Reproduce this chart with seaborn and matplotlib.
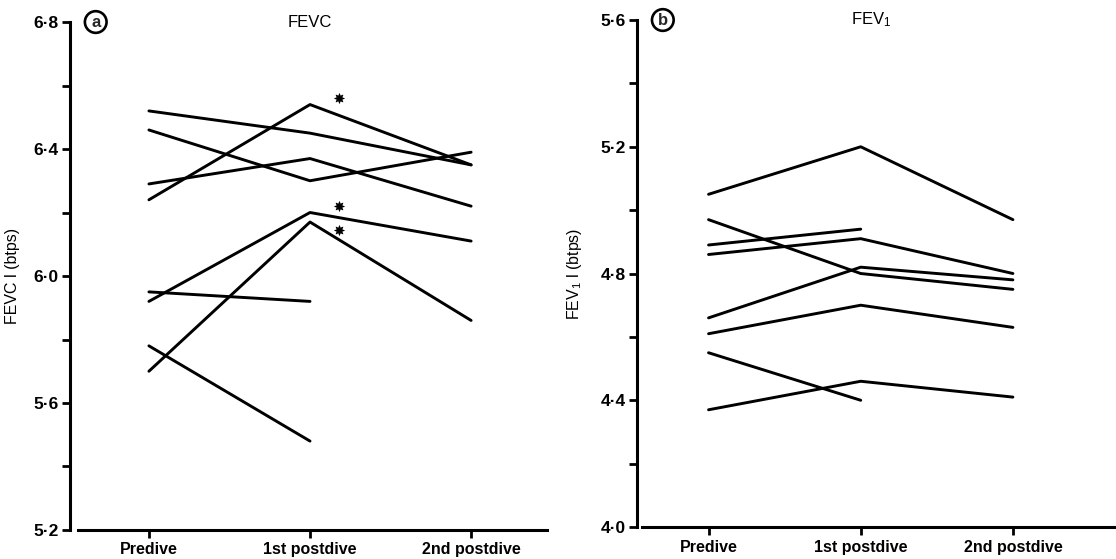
"""Recreate the FEVC / FEV1 pre- and post-dive line chart."""
#####################################
# Imports At the Top
#####################################

import numpy as np
import pandas as pd
import matplotlib

matplotlib.use("Agg")
import matplotlib.pyplot as plt
from matplotlib.ticker import FixedLocator, FuncFormatter
import seaborn as sns

#####################################
# Data
#####################################

visits = ["Predive", "1st postdive", "2nd postdive"]
subjects = [1, 2, 3, 4, 5, 6, 7, 8]

fevc_predive = [6.52, 6.46, 6.29, 6.24, 5.95, 5.92, 5.78, 5.70]
fevc_post1 = [6.45, 6.30, 6.37, 6.54, 5.92, 6.20, 5.48, 6.17]
fevc_post2 = [6.35, 6.39, 6.22, 6.35, np.nan, 6.11, np.nan, 5.86]

fev1_predive = [5.05, 4.97, 4.89, 4.86, 4.66, 4.61, 4.55, 4.37]
fev1_post1 = [5.20, 4.80, 4.94, 4.91, 4.82, 4.70, 4.40, 4.46]
fev1_post2 = [4.97, 4.75, np.nan, 4.80, 4.78, 4.63, np.nan, 4.41]

# significance marks (left panel only)
star_x = [1.18, 1.18, 1.18]
fevc_star_y = [6.56, 6.22, 6.145]

#####################################
# Define Functions
#####################################


def long_table(pre, post1, post2):
    """Turn three per-visit lists into a long-form table."""
    rows = []
    for subj, vals in zip(subjects, zip(pre, post1, post2)):
        for visit, val in zip(visits, vals):
            if not np.isnan(val):
                rows.append((subj, visit, val))
    df = pd.DataFrame(rows, columns=["subject", "visit", "value"])
    df["pos"] = df["visit"].map({v: i for i, v in enumerate(visits)})
    return df


def dot_decimal(v, _):
    return f"{v:.1f}".replace(".", "\u00b7")


def draw_panel(ax, df, ylim, xlim, letter, title, ylabel, title_x, label_x):
    sns.lineplot(data=df, x="pos", y="value", units="subject", estimator=None,
                 color="black", linewidth=2.1, sort=False, ax=ax, legend=False)

    ax.set_xlim(*xlim)
    ax.set_ylim(*ylim)
    lo, hi = ylim
    major = np.round(np.arange(lo, hi + 0.01, 0.4), 1)
    minor = np.round(major[:-1] + 0.2, 1)
    ax.yaxis.set_major_locator(FixedLocator(major))
    ax.yaxis.set_minor_locator(FixedLocator(minor))
    ax.yaxis.set_major_formatter(FuncFormatter(dot_decimal))
    ax.set_xticks(range(len(visits)))
    ax.set_xticklabels(visits)

    for side in ("top", "right"):
        ax.spines[side].set_visible(False)
    for side in ("left", "bottom"):
        ax.spines[side].set_linewidth(2.2)
        ax.spines[side].set_color("black")
    ax.spines["bottom"].set_bounds(-0.44, xlim[1])

    ax.tick_params(axis="y", which="both", direction="out", length=6,
                   width=2.0, pad=2, labelsize=12.5, color="black",
                   labelcolor="black")
    ax.tick_params(axis="x", direction="out", length=6, width=2.0, pad=3,
                   labelsize=11.5, color="black", labelcolor="black")
    for lab in ax.get_yticklabels() + ax.get_xticklabels():
        lab.set_fontweight("bold")

    ax.set_xlabel("")
    ax.set_ylabel(ylabel, fontsize=11.5, color="black")
    ax.yaxis.set_label_coords(label_x, 0.5)

    ax.text(0.054, 1.0, letter, transform=ax.transAxes, ha="center",
            va="center", fontsize=12, fontweight="bold",
            bbox=dict(boxstyle="circle,pad=0.2", fc="white", ec="black", lw=1.9))
    ax.text(title_x, 1.0, title, transform=ax.get_xaxis_transform(),
            ha="center", va="center", fontsize=12, color="black")


def main():
    sns.set_style("ticks")
    plt.rcParams["font.family"] = ["Liberation Sans", "DejaVu Sans"]
    plt.rcParams["mathtext.fontset"] = "custom"
    plt.rcParams["mathtext.rm"] = "Liberation Sans"
    plt.rcParams["mathtext.default"] = "regular"

    fig = plt.figure(figsize=(11.16, 5.59), dpi=100)
    ax_a = fig.add_axes([0.0627, 0.0519, 0.4273, 0.9087])
    ax_b = fig.add_axes([0.5708, 0.0572, 0.4282, 0.9070])

    fevc = long_table(fevc_predive, fevc_post1, fevc_post2)
    fev1 = long_table(fev1_predive, fev1_post1, fev1_post2)

    draw_panel(ax_a, fevc, (5.2, 6.8), (-0.49, 2.47), "a", "FEVC",
               "FEVC l (btps)", 1.0, -0.104)
    draw_panel(ax_b, fev1, (4.0, 5.6), (-0.47, 2.67), "b", "FEV$_1$",
               "FEV$_1$ l (btps)", 1.07, -0.11)

    sns.scatterplot(x=star_x, y=fevc_star_y, marker=(8, 1, 0), s=50,
                    color="black", linewidth=0.5, edgecolor="black", ax=ax_a,
                    legend=False)

    fig.savefig("out.png", dpi=100)


if __name__ == "__main__":
    main()
